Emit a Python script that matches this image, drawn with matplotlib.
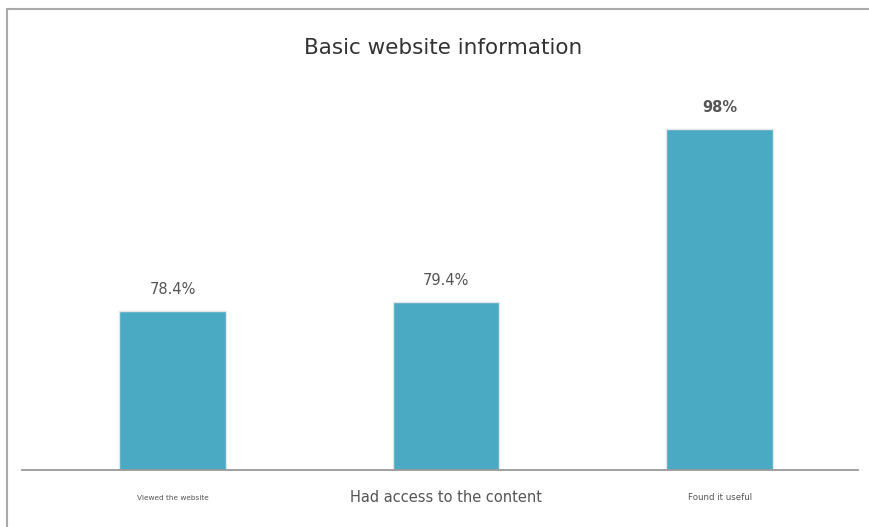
import matplotlib.pyplot as plt
from matplotlib.patches import Rectangle

categories = ['Viewed the website', 'Had access to the content', 'Found it useful']
values = [78.4, 79.4, 98]
value_labels = ['78.4%', '79.4%', '98%']
label_sizes = [5.3, 10.5, 6.2]

bar_color = '#4aaac4'
text_color = '#555555'

fig = plt.figure(figsize=(8.69, 5.27), dpi=100)
ax = fig.add_axes([0.025, 0.108, 0.962, 0.702])

x = list(range(len(categories)))
ax.bar(x, values, width=0.39, color=bar_color, edgecolor='#e6e6e6', linewidth=1.0)

for xi, v, lab in zip(x, values, value_labels):
    weight = 'bold' if v == max(values) else 'normal'
    ax.annotate(lab, (xi, v), xytext=(0, 10), textcoords='offset points',
                ha='center', va='bottom', fontsize=10.5, color=text_color,
                fontweight=weight)

# baseline sits well above zero, only the top part of each bar is shown
ax.set_ylim(61.3, 101.1)
ax.set_xlim(-0.552, 2.505)
ax.set_yticks([])
ax.set_xticks(x)
ax.set_xticklabels([])
ax.tick_params(axis='x', length=0)
for xi, cat, size in zip(x, categories, label_sizes):
    ax.text(xi, -0.075, cat, transform=ax.get_xaxis_transform(),
            ha='center', va='center', fontsize=size, color=text_color)

for side in ['top', 'right', 'left']:
    ax.spines[side].set_visible(False)
ax.spines['bottom'].set_color('#999999')
ax.spines['bottom'].set_linewidth(1.3)

fig.text(0.51, 0.909, 'Basic website information', ha='center', va='center',
         fontsize=15.5, color='#333333')

# outer frame, open on the right and bottom
fig.patches.append(Rectangle((7 / 869, -0.1), 1.2, 1 - 9 / 527 + 0.1,
                             transform=fig.transFigure, fill=False,
                             edgecolor='#aaaaaa', linewidth=1.5))

fig.savefig('out.png', dpi=100)
